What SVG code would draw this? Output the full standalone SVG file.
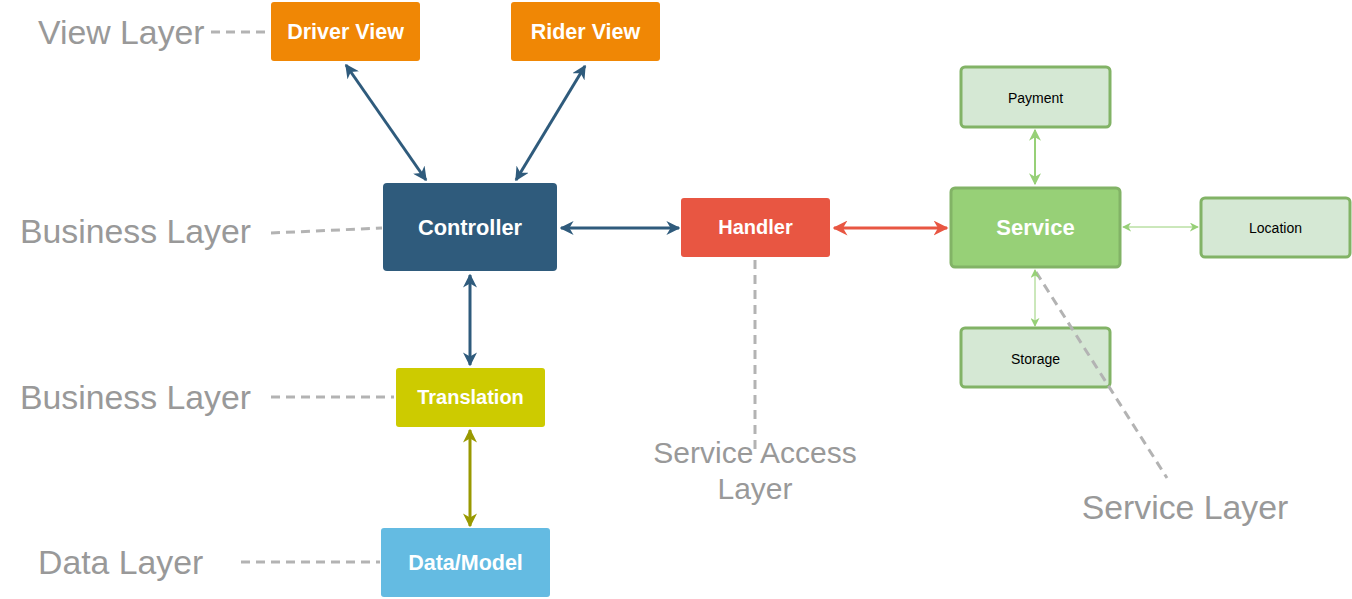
<svg xmlns="http://www.w3.org/2000/svg" width="1352" height="599" viewBox="0 0 1352 599">
<style>
.lbl{font-family:"Liberation Sans",Arial,sans-serif;fill:#999999;font-size:33.8px}
.nt{font-family:"Liberation Sans",Arial,sans-serif;fill:#ffffff;font-weight:bold;text-anchor:middle}
.st{font-family:"Liberation Sans",Arial,sans-serif;fill:#000000;font-size:14px;text-anchor:middle}
.dash{stroke:#B3B3B3;stroke-width:3;stroke-dasharray:9,6;fill:none}
.sub{fill:#D5E8D4;stroke:#82B366;stroke-width:3}
</style>
<defs>
<marker id="ab" viewBox="0 0 10 10" refX="9" refY="5" markerWidth="14" markerHeight="14" markerUnits="userSpaceOnUse" orient="auto-start-reverse"><path d="M0,0 L10,5 L0,10 L3,5 Z" fill="#2F5B7C"/></marker>
<marker id="ar" viewBox="0 0 10 10" refX="9" refY="5" markerWidth="15" markerHeight="15" markerUnits="userSpaceOnUse" orient="auto-start-reverse"><path d="M0,0 L10,5 L0,10 L3,5 Z" fill="#E85642"/></marker>
<marker id="ao" viewBox="0 0 10 10" refX="9" refY="5" markerWidth="14" markerHeight="14" markerUnits="userSpaceOnUse" orient="auto-start-reverse"><path d="M0,0 L10,5 L0,10 L3,5 Z" fill="#999900"/></marker>
<marker id="ag" viewBox="0 0 10 10" refX="9" refY="5" markerWidth="12" markerHeight="12" markerUnits="userSpaceOnUse" orient="auto-start-reverse"><path d="M0,0 L10,5 L0,10 L3,5 Z" fill="#97D077"/></marker>
<marker id="ag2" viewBox="0 0 10 10" refX="9" refY="5" markerWidth="9" markerHeight="9" markerUnits="userSpaceOnUse" orient="auto-start-reverse"><path d="M0,0 L10,5 L0,10 L3,5 Z" fill="#97D077"/></marker>
</defs>

<g id="layer-labels">
<text class="lbl" x="38" y="44">View Layer</text>
<text class="lbl" x="20" y="243">Business Layer</text>
<text class="lbl" x="20" y="409">Business Layer</text>
<text class="lbl" x="38" y="574">Data Layer</text>
<text class="lbl" x="755" y="463" text-anchor="middle" style="font-size:30px">Service Access</text>
<text class="lbl" x="755" y="499" text-anchor="middle" style="font-size:30px">Layer</text>
<text class="lbl" x="1185" y="519" text-anchor="middle">Service Layer</text>
</g>

<g id="driver-view"><rect x="271" y="2" width="149" height="59" rx="3" fill="#F08705"/><text class="nt" x="345.5" y="39" font-size="21.5">Driver View</text></g>
<g id="rider-view"><rect x="511" y="2" width="149" height="59" rx="3" fill="#F08705"/><text class="nt" x="585.5" y="39" font-size="21.5">Rider View</text></g>
<g id="controller"><rect x="383" y="183" width="174" height="88" rx="4" fill="#2F5B7C"/><text class="nt" x="470" y="235" font-size="21.8">Controller</text></g>
<g id="handler"><rect x="681" y="198" width="149" height="59" rx="3" fill="#E85642"/><text class="nt" x="755.5" y="234" font-size="20">Handler</text></g>
<g id="service"><rect x="951" y="188" width="169" height="79" rx="4" fill="#97D077" stroke="#82B366" stroke-width="3"/><text class="nt" x="1035.5" y="235" font-size="22">Service</text></g>
<g id="payment"><rect x="961" y="67" width="149" height="60" rx="4" class="sub"/><text class="st" x="1035.5" y="103">Payment</text></g>
<g id="location"><rect x="1201" y="198" width="149" height="59" rx="4" class="sub"/><text class="st" x="1275.5" y="233">Location</text></g>
<g id="storage"><rect x="961" y="328" width="149" height="59" rx="4" class="sub"/><text class="st" x="1035.5" y="364">Storage</text></g>
<g id="translation"><rect x="396" y="368" width="149" height="59" rx="3" fill="#CDCB00"/><text class="nt" x="470.5" y="404" font-size="20">Translation</text></g>
<g id="data-model"><rect x="381" y="528" width="169" height="69" rx="3" fill="#64BBE2"/><text class="nt" x="465.5" y="570" font-size="21.5">Data/Model</text></g>

<g id="connectors">
<line class="dash" x1="211" y1="32" x2="270" y2="32"/>
<line class="dash" x1="271" y1="233" x2="382" y2="228"/>
<line class="dash" x1="271" y1="397" x2="394" y2="397"/>
<line class="dash" x1="241" y1="562" x2="380" y2="562"/>
<line class="dash" x1="755" y1="260" x2="755" y2="449"/>
<line class="dash" x1="1036" y1="272" x2="1167" y2="478"/>
<line x1="346" y1="65" x2="426" y2="180" stroke="#2F5B7C" stroke-width="3" marker-start="url(#ab)" marker-end="url(#ab)"/>
<line x1="585" y1="66" x2="516" y2="180" stroke="#2F5B7C" stroke-width="3" marker-start="url(#ab)" marker-end="url(#ab)"/>
<line x1="561" y1="228" x2="679" y2="228" stroke="#2F5B7C" stroke-width="3" marker-start="url(#ab)" marker-end="url(#ab)"/>
<line x1="834" y1="228" x2="947" y2="228" stroke="#E85642" stroke-width="3" marker-start="url(#ar)" marker-end="url(#ar)"/>
<line x1="470" y1="275" x2="470" y2="365" stroke="#2F5B7C" stroke-width="3" marker-start="url(#ab)" marker-end="url(#ab)"/>
<line x1="470" y1="430" x2="470" y2="526" stroke="#999900" stroke-width="3" marker-start="url(#ao)" marker-end="url(#ao)"/>
<line x1="1035" y1="130" x2="1035" y2="184" stroke="#97D077" stroke-width="2" marker-start="url(#ag)" marker-end="url(#ag)"/>
<line x1="1123" y1="227" x2="1198" y2="227" stroke="#97D077" stroke-width="1" marker-start="url(#ag2)" marker-end="url(#ag2)"/>
<line x1="1035" y1="270" x2="1035" y2="326" stroke="#97D077" stroke-width="1" marker-start="url(#ag2)" marker-end="url(#ag2)"/>
</g>
</svg>
